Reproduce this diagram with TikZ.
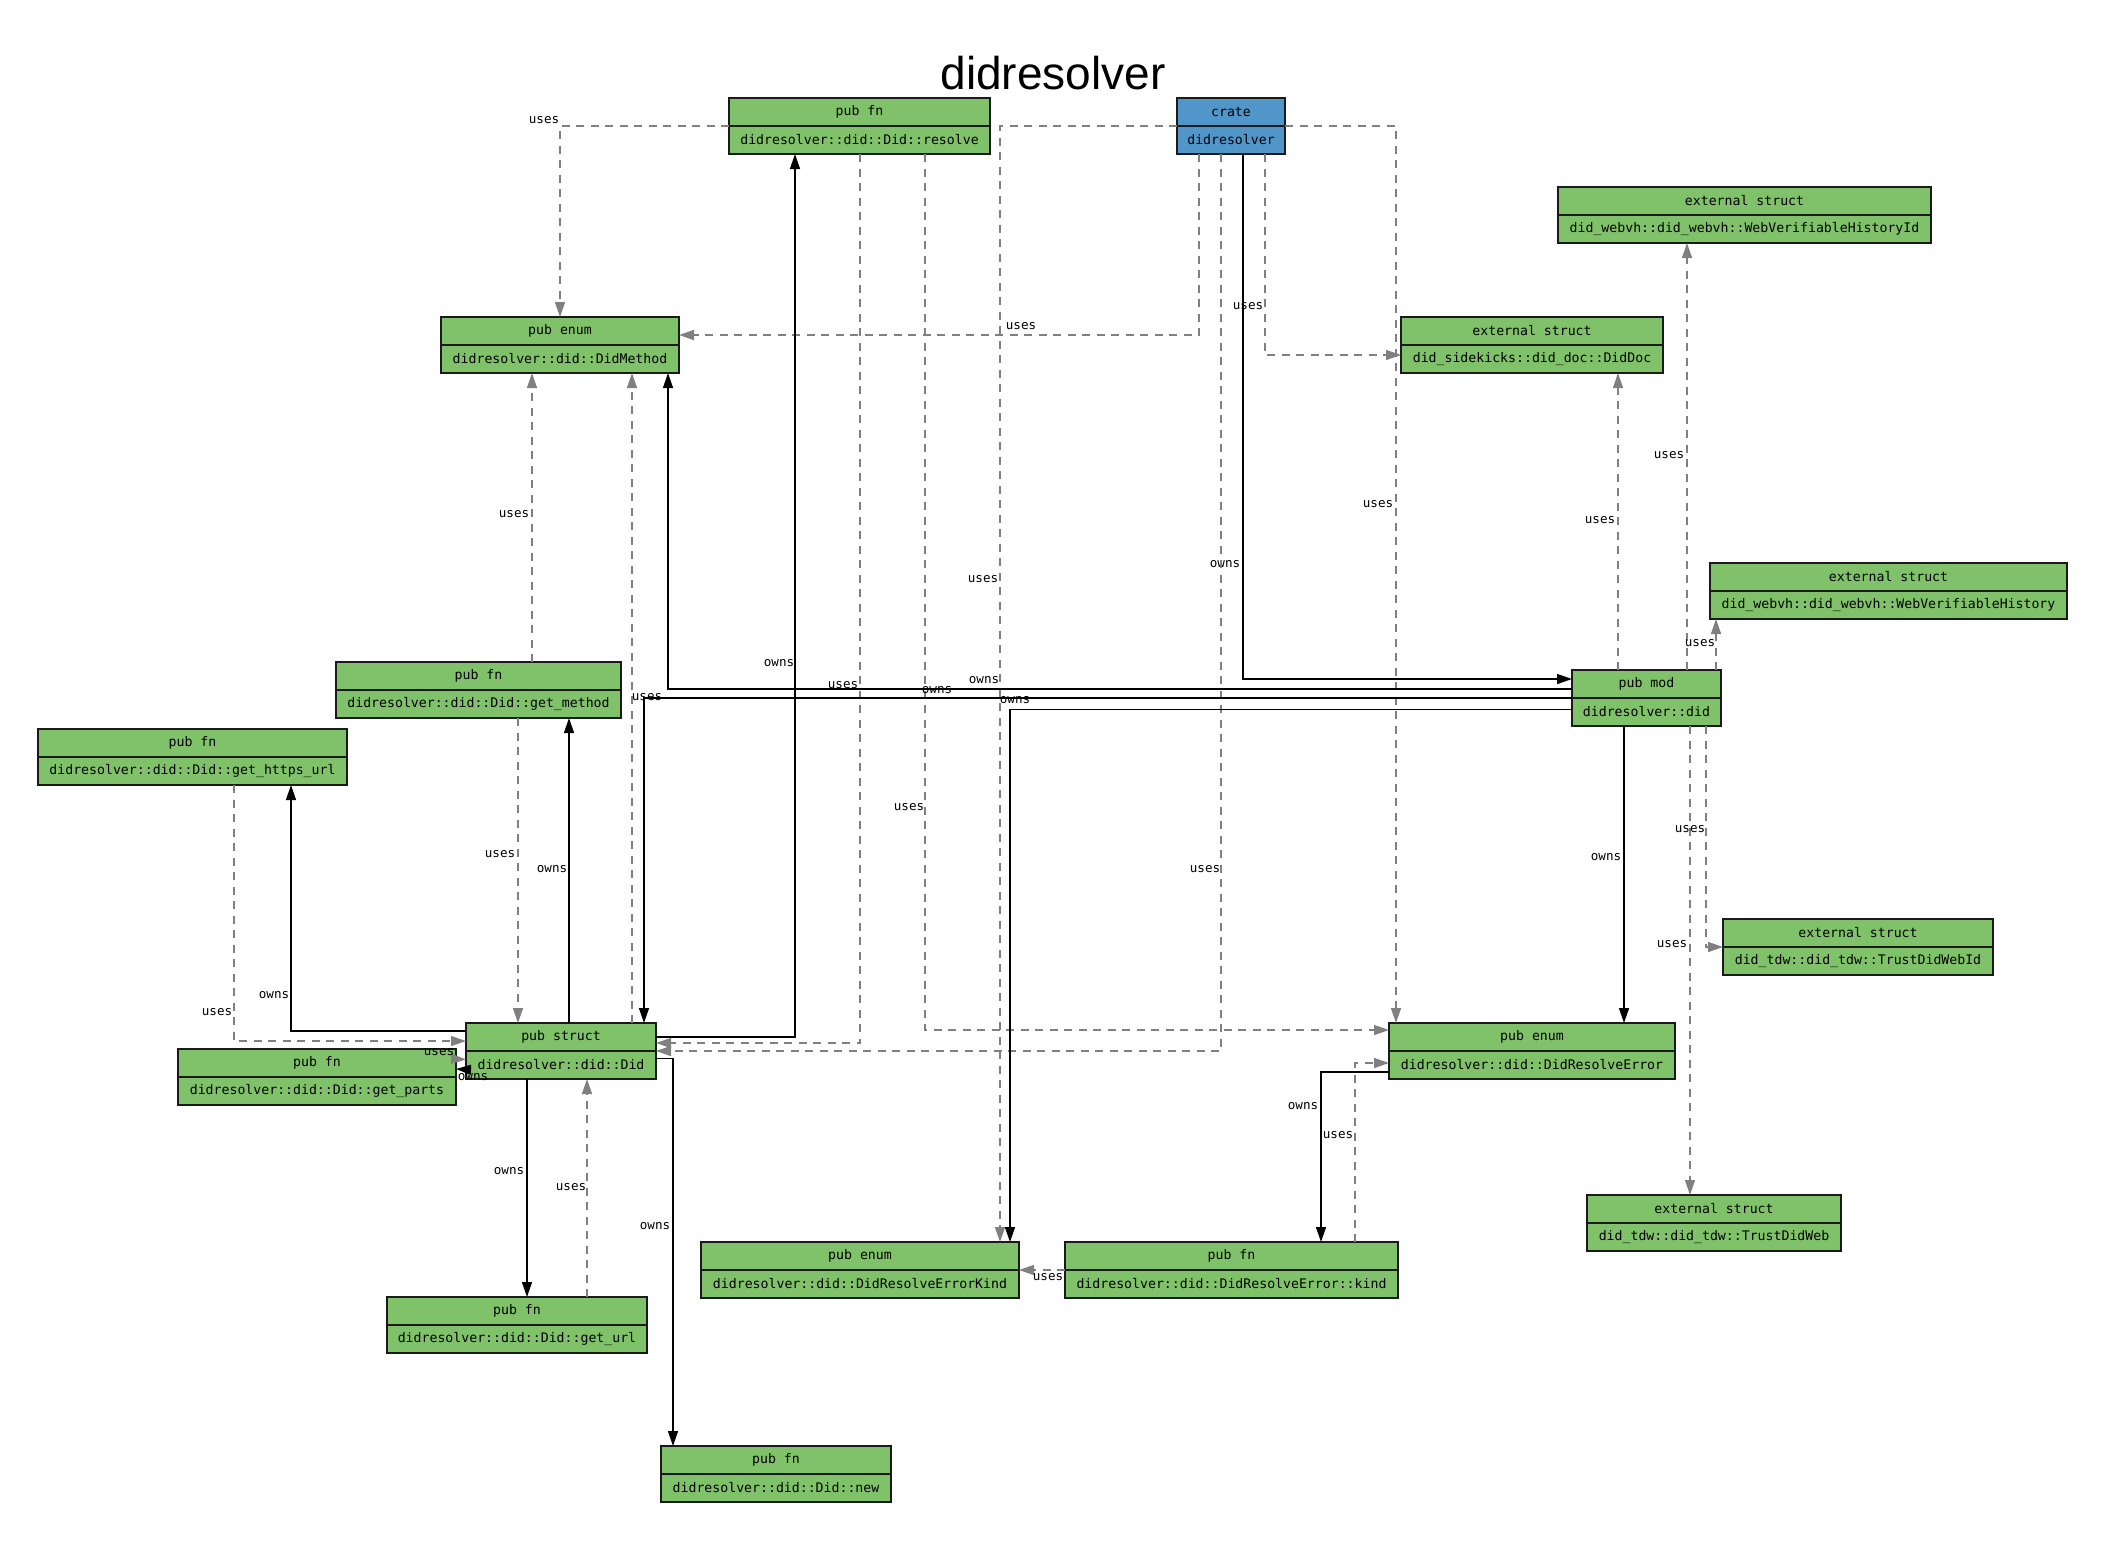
\documentclass[tikz,border=0pt]{standalone}
\usepackage{fontspec}
\setmainfont{Liberation Sans}
\newfontfamily\codefont{DejaVu Sans Mono}
\usetikzlibrary{arrows.meta,calc}

\definecolor{itemgreen}{RGB}{128,194,106}
\definecolor{crateblue}{RGB}{80,150,200}
\definecolor{edgegray}{RGB}{128,128,128}
\definecolor{boxline}{RGB}{26,26,26}

\tikzset{
  rowbox/.style={draw=boxline, line width=1.4pt, minimum height=28pt, inner sep=0pt,
    outer sep=0pt, font=\codefont\fontsize{13.2}{14}\selectfont},
  owns/.style={draw=black, line width=1.4pt, -{Triangle[length=15pt,width=10pt]}},
  uses/.style={draw=edgegray, line width=1.4pt, dash pattern=on 8pt off 6.5pt,
    -{Triangle[length=15pt,width=10pt]}},
  lbl/.style={font=\codefont\fontsize{12.6}{13}\selectfont, inner sep=0pt, text=black},
}

% one item = header row (name) stacked on a body row (name b)
\newcommand\umlitem[7]{%
  \node[rowbox, fill=#5, minimum width=#4pt, anchor=north west] (#1) at (#2,#3) {#6};
  \node[rowbox, fill=#5, minimum width=#4pt, anchor=north] (#1b) at (#1.south) {#7};
}

\begin{document}
\begin{tikzpicture}[x=1pt,y=-1pt]
\fill[white] (0,0) rectangle (2106,1540);
\useasboundingbox (0,0) rectangle (2106,1540);

\node[font=\fontsize{46}{50}\selectfont, anchor=base] (title) at (1053,89) {didresolver};

% items
\umlitem{resolve}{729}{98}{261}{itemgreen}{pub fn}{didresolver::did::Did::resolve}
\umlitem{crate}{1177}{98}{108}{crateblue}{crate}{didresolver}
\umlitem{didmethod}{441}{317}{238}{itemgreen}{pub enum}{didresolver::did::DidMethod}
\umlitem{wvhid}{1558}{187}{373}{itemgreen}{external struct}{did\_webvh::did\_webvh::WebVerifiableHistoryId}
\umlitem{diddoc}{1401}{317}{262}{itemgreen}{external struct}{did\_sidekicks::did\_doc::DidDoc}
\umlitem{wvh}{1710}{563}{357}{itemgreen}{external struct}{did\_webvh::did\_webvh::WebVerifiableHistory}
\umlitem{mod}{1572}{670}{149}{itemgreen}{pub mod}{didresolver::did}
\umlitem{getmethod}{336}{662}{285}{itemgreen}{pub fn}{didresolver::did::Did::get\_method}
\umlitem{httpsurl}{38}{729}{309}{itemgreen}{pub fn}{didresolver::did::Did::get\_https\_url}
\umlitem{did}{466}{1023}{190}{itemgreen}{pub struct}{didresolver::did::Did}
\umlitem{getparts}{178}{1049}{278}{itemgreen}{pub fn}{didresolver::did::Did::get\_parts}
\umlitem{err}{1389}{1023}{286}{itemgreen}{pub enum}{didresolver::did::DidResolveError}
\umlitem{tdwid}{1723}{919}{270}{itemgreen}{external struct}{did\_tdw::did\_tdw::TrustDidWebId}
\umlitem{tdw}{1587}{1195}{254}{itemgreen}{external struct}{did\_tdw::did\_tdw::TrustDidWeb}
\umlitem{errkind}{701}{1242}{318}{itemgreen}{pub enum}{didresolver::did::DidResolveErrorKind}
\umlitem{kindfn}{1065}{1242}{333}{itemgreen}{pub fn}{didresolver::did::DidResolveError::kind}
\umlitem{geturl}{387}{1297}{260}{itemgreen}{pub fn}{didresolver::did::Did::get\_url}
\umlitem{newfn}{661}{1446}{230}{itemgreen}{pub fn}{didresolver::did::Did::new}

% crate edges
\draw[uses] ($(crateb.south west)+(22,0)$) |- ($(didmethod.east)+(0,4)$)
  node[lbl] (l1) at (1021,326) {uses};
\draw[uses] ($(crateb.south west)+(88,0)$) |- ($(diddocb.west)+(0,-4)$)
  node[lbl] (l2) at (1248,306) {uses};
\draw[owns] ($(crateb.south west)+(66,0)$) |- ($(mod.west)+(0,-5)$)
  node[lbl] (l3) at (1225,564) {owns};
\draw[uses] (crate.south east) -| ($(err.north west)+(7,0)$)
  node[lbl] (l4) at (1378,504) {uses};
\draw[uses] (crate.south west) -| ($(errkind.north west)+(299,0)$)
  node[lbl] (l5) at (983,579) {uses};
\draw[uses] ($(crateb.south west)+(44,0)$) |- (did.south east)
  node[lbl] (l6) at (1205,869) {uses};

% resolve edges
\draw[uses] (resolve.south west) -| ($(didmethod.north west)+(119,0)$)
  node[lbl] (l7) at (544,120) {uses};
\draw[uses] ($(resolveb.south west)+(131,0)$) |- ($(did.east)+(0,6)$)
  node[lbl] (l8) at (843,685) {uses};
\draw[uses] ($(resolveb.south west)+(196,0)$) |- ($(err.west)+(0,-7)$)
  node[lbl] (l9) at (909,807) {uses};

% module edges
\draw[owns] ($(mod.west)+(0,5)$) -| ($(didmethodb.south west)+(227,0)$)
  node[lbl] (l10) at (984,680) {owns};
\draw[owns] (mod.south west) -| ($(did.north west)+(178,0)$)
  node[lbl] (l11) at (937,690) {owns};
\draw[owns] ($(modb.west)+(0,-2.5)$) -| ($(errkind.north west)+(309,0)$)
  node[lbl] (l12) at (1015,700) {owns};
\draw[owns] ($(modb.south west)+(52,0)$) -- ($(err.north west)+(235,0)$)
  node[lbl] (l13) at (1606,857) {owns};
\draw[uses] ($(mod.north west)+(46,0)$) -- ($(diddocb.south west)+(217,0)$)
  node[lbl] (l14) at (1600,520) {uses};
\draw[uses] ($(mod.north west)+(115,0)$) -- ($(wvhidb.south west)+(129,0)$)
  node[lbl] (l15) at (1669,455) {uses};
\draw[uses] ($(mod.north west)+(144,0)$) -- ($(wvhb.south west)+(6,0)$)
  node[lbl] (l16) at (1700,643) {uses};
\draw[uses] ($(modb.south west)+(118,0)$) -- ($(tdw.north west)+(103,0)$)
  node[lbl] (l17) at (1672,944) {uses};
\draw[uses] ($(modb.south west)+(134,0)$) |- (tdwid.south west)
  node[lbl] (l18) at (1690,829) {uses};

% struct Did edges
\draw[owns] (did.east) -| ($(resolveb.south west)+(66,0)$)
  node[lbl] (l19) at (779,663) {owns};
\draw[uses] ($(did.north west)+(166,0)$) -- ($(didmethodb.south west)+(191,0)$)
  node[lbl] (l20) at (647,697) {uses};
\draw[uses] ($(getmethod.north west)+(196,0)$) -- ($(didmethodb.south west)+(91,0)$)
  node[lbl] (l21) at (514,514) {uses};
\draw[uses] ($(getmethodb.south west)+(182,0)$) -- ($(did.north west)+(52,0)$)
  node[lbl] (l22) at (500,854) {uses};
\draw[owns] ($(did.north west)+(103,0)$) -- ($(getmethodb.south west)+(233,0)$)
  node[lbl] (l23) at (552,869) {owns};
\draw[owns] ($(did.west)+(0,-6)$) -| ($(httpsurlb.south west)+(253,0)$)
  node[lbl] (l24) at (274,995) {owns};
\draw[uses] ($(httpsurlb.south west)+(196,0)$) |- ($(did.west)+(0,4)$)
  node[lbl] (l25) at (217,1012) {uses};
\draw[uses] ($(getparts.east)+(0,-4)$) -- ($(didb.west)+(0,-5.5)$)
  node[lbl] (l26) at (439,1052) {uses};
\draw[owns] ($(didb.west)+(0,4.5)$) -- ($(getparts.east)+(0,6)$)
  node[lbl] (l27) at (473,1077) {owns};
\draw[owns] ($(didb.south west)+(61,0)$) -- ($(geturl.north west)+(140,0)$)
  node[lbl] (l28) at (509,1171) {owns};
\draw[uses] ($(geturl.north west)+(200,0)$) -- ($(didb.south west)+(121,0)$)
  node[lbl] (l29) at (571,1187) {uses};
\draw[owns] ($(didb.east)+(0,-6.5)$) -| ($(newfn.north west)+(12,0)$)
  node[lbl] (l30) at (655,1226) {owns};

% error edges
\draw[uses] (kindfn.south west) -- (errkind.south east)
  node[lbl] (l31) at (1048,1277) {uses};
\draw[owns] ($(errb.west)+(0,7)$) -| ($(kindfn.north west)+(256,0)$)
  node[lbl] (l32) at (1303,1106) {owns};
\draw[uses] ($(kindfn.north west)+(290,0)$) |- ($(errb.west)+(0,-2)$)
  node[lbl] (l33) at (1338,1135) {uses};

\end{tikzpicture}
\end{document}
